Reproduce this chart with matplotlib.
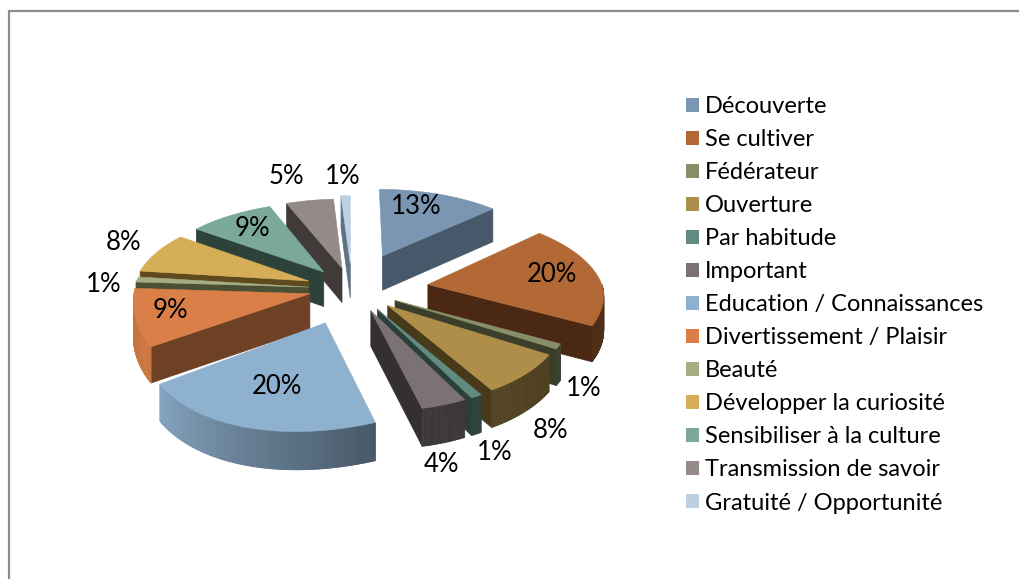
import numpy as np
import matplotlib
matplotlib.use("Agg")
import matplotlib.pyplot as plt
from matplotlib.patches import Polygon, Patch
from matplotlib.colors import to_rgb

plt.rcParams["font.family"] = ["Lato", "DejaVu Sans"]

labels = ["Découverte", "Se cultiver", "Fédérateur", "Ouverture", "Par habitude", "Important",
          "Education / Connaissances", "Divertissement / Plaisir", "Beauté",
          "Développer la curiosité", "Sensibiliser à la culture", "Transmission de savoir",
          "Gratuité / Opportunité"]
values = [13, 20, 1, 8, 1, 4, 20, 9, 1, 8, 9, 5, 1]
colors = ["#7A96B2", "#B26936", "#868F67", "#AF8E49", "#618B81", "#7D7273", "#8FB1D0",
          "#D97F47", "#A5AD82", "#D6AE57", "#7BA89A", "#958A8A", "#BCD0E2"]
side_colors = ["#46586A", "#4A2814", "#3A3E2A", "#473A1B", "#2A3F39", "#343031", "#46586A",
               "#6E4024", "#4A5033", "#5E4A1E", "#2E423C", "#403A39", "#5F7284"]
explode = [0.46, 0.44, 0.27, 0.27, 0.27, 0.27, 0.42, 0.25, 0.25, 0.27, 0.27, 0.27, 0.32]
label_x = [416, 552, 584, 551, 495, 441, 277, 170, 104, 124, 252, 286, 343]
label_y = [207, 275, 388, 430, 452, 464, 386, 311, 284, 242, 229, 176, 176]

# fake 3d view, pixels
CX, CY = 352, 289
RX, RY = 175, 82
PERSP = 0.12
SHEAR = 16
SAG = 18
DEPTH = 35


def project(x, z, h=0):
    f = 1 / (1 - PERSP * z)
    low = max(z, 0)
    return (CX + RX * x * f + SHEAR * low * (1 - max(x, 0)),
            CY + RY * z * f + SAG * low * max(-x, 0) + h * np.sqrt(f))


def arc_shade(t):
    return np.interp(t, [90, 170, 245, 275], [0.42, 0.5, 0.95, 0.88])


fig = plt.figure(figsize=(10.19, 5.79), dpi=100)
ax = fig.add_axes([0, 0, 1, 1])
ax.set_xlim(0, 1019)
ax.set_ylim(579, 0)
ax.axis("off")

# frame, only left and top show
ax.plot([9, 9, 1019], [579, 11, 11], color="#8C8C8C", lw=1.6)

total = sum(values)
edges = np.cumsum([0] + values) / total * 360
order = sorted(range(len(values)), key=lambda i: -np.cos(np.radians((edges[i] + edges[i + 1]) / 2)))

z = 1
for i in order:
    t1, t2 = edges[i], edges[i + 1]
    mid = np.radians((t1 + t2) / 2)
    ox, oz = explode[i] * np.sin(mid), -explode[i] * np.cos(mid)
    ts = np.linspace(t1, t2, max(int(t2 - t1) * 2, 4))
    ax_x = ox + np.sin(np.radians(ts))
    ax_z = oz - np.cos(np.radians(ts))

    # straight walls
    for t, visible in ((t1, np.sin(np.radians(t1)) < 0), (t2, np.sin(np.radians(t2)) > 0)):
        if visible:
            ex, ez = ox + np.sin(np.radians(t)), oz - np.cos(np.radians(t))
            pts = [project(ox, oz), project(ex, ez), project(ex, ez, DEPTH), project(ox, oz, DEPTH)]
            ax.add_patch(Polygon(pts, fc=side_colors[i], ec=side_colors[i], lw=0.5, zorder=z))
            z += 1

    # outer wall, shaded by angle
    base = np.array(to_rgb(colors[i]))
    for j in range(len(ts) - 1):
        tm = (ts[j] + ts[j + 1]) / 2
        if 90 < tm < 270:
            c = tuple(base * arc_shade(tm))
            pts = [project(ax_x[j], ax_z[j]), project(ax_x[j + 1], ax_z[j + 1]),
                   project(ax_x[j + 1], ax_z[j + 1], DEPTH), project(ax_x[j], ax_z[j], DEPTH)]
            ax.add_patch(Polygon(pts, fc=c, ec=c, lw=0.6, zorder=z))
    z += 1

    # top
    top = [project(ox, oz)] + [project(a, b) for a, b in zip(ax_x, ax_z)]
    ax.add_patch(Polygon(top, fc=colors[i], ec=colors[i], lw=0.4, zorder=z))
    z += 1

for v, x, y in zip(values, label_x, label_y):
    ax.text(x, y, f"{v}%", fontsize=18.5, color="black", ha="center", va="center", zorder=z)

handles = [Patch(fc=c, ec="none", label=n) for c, n in zip(colors, labels)]
ax.legend(handles=handles, loc="upper left", bbox_to_anchor=(686, 96), bbox_transform=ax.transData,
          frameon=False, fontsize=17, borderpad=0, borderaxespad=0, handlelength=0.55,
          handleheight=0.55, handletextpad=0.24, labelspacing=0.51)

plt.savefig("out.png", dpi=100)
